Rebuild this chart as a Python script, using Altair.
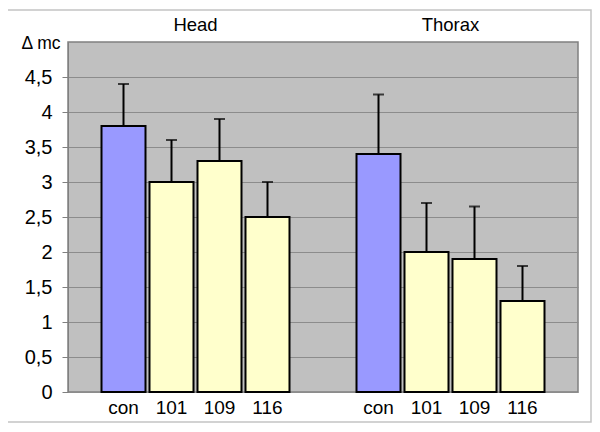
import altair as alt
import pandas as pd

groups = ["Head", "Head", "Head", "Head", "Thorax", "Thorax", "Thorax", "Thorax"]
conditions = ["con", "101", "109", "116", "con", "101", "109", "116"]
values = [3.8, 3.0, 3.3, 2.5, 3.4, 2.0, 1.9, 1.3]
upper = [4.4, 3.6, 3.9, 3.0, 4.25, 2.7, 2.65, 1.8]
kinds = ["control", "treated", "treated", "treated", "control", "treated", "treated", "treated"]
y_ticks = [0, 0.5, 1, 1.5, 2, 2.5, 3, 3.5, 4, 4.5]
group_order = ["Head", "Thorax"]
cond_order = ["con", "101", "109", "116"]

df = pd.DataFrame({"group": groups, "condition": conditions, "value": values,
                   "upper": upper, "kind": kinds})

FONT = "Arial, Liberation Sans"

x = alt.X("group:N", scale=alt.Scale(domain=group_order, paddingInner=0, paddingOuter=0),
          axis=alt.Axis(orient="top", title=None, ticks=False, domain=False,
                        labelAngle=0, grid=False, labelFontSize=18.5, labelPadding=8,
                        labelFont=FONT, labelColor="black"))
xo = alt.XOffset("condition:N", sort=cond_order,
                 scale=alt.Scale(domain=cond_order, paddingInner=0.0833, paddingOuter=0.698))
yaxis = alt.Axis(values=y_ticks, labelExpr="replace(toString(datum.value), '.', ',')",
                 title="Δ mc", grid=True, labelFontSize=20, labelFont=FONT,
                 labelPadding=10, labelColor="black")
yscale = alt.Scale(domain=[0, 5], nice=False)

base = alt.Chart(df)

bars = base.mark_bar(stroke="black", strokeWidth=2).encode(
    x=x, xOffset=xo,
    y=alt.Y("value:Q", scale=yscale, axis=yaxis),
    color=alt.Color("kind:N", scale=alt.Scale(domain=["control", "treated"],
                                              range=["#9999FF", "#FFFFCC"]), legend=None),
)
err = base.mark_rule(color="black", strokeWidth=2).encode(
    x=x, xOffset=xo,
    y=alt.Y("value:Q", scale=yscale, axis=yaxis), y2="upper:Q",
)
caps = base.mark_tick(color="black", thickness=2, size=11).encode(
    x=x, xOffset=xo,
    y=alt.Y("upper:Q", scale=yscale, axis=yaxis),
)
labels = base.mark_text(fontSize=19, font=FONT, baseline="middle", color="black").encode(
    x=x, xOffset=xo, y=alt.value(366), text="condition:N",
)
frame = alt.Chart(pd.DataFrame({"a": [0]})).mark_rect(
    fill="transparent", stroke="#c4c4c4", strokeWidth=1.5
).encode(x=alt.value(-62), x2=alt.value(523), y=alt.value(-32), y2=alt.value(380))

chart = alt.layer(frame, bars, err, caps, labels).properties(
    width=510, height=350,
    background="white",
    autosize=alt.AutoSizeParams(type="none"),
    padding={"left": 60, "top": 34, "right": 14, "bottom": 32},
).configure_view(
    fill="#C0C0C0", stroke="#808080", strokeWidth=1.5
).configure_axis(
    labelFontSize=20,
).configure_axisX(
    labelFont=FONT, labelFontSize=18.5, labelFontWeight="normal", labelColor="black",
    labelPadding=8, tickSize=0,
).configure_axisY(
    labelFont=FONT, labelFontSize=20, labelColor="black", labelPadding=10,
    tickColor="#808080", tickSize=6, domainColor="#808080", gridColor="#8c8c8c",
    titleAngle=0, titleAlign="right", titleBaseline="middle", titleX=-8, titleY=1,
    titleFontSize=17.5, titleFontWeight="normal", titleFont=FONT, titleColor="black",
)

chart.save("out.html", embed_options={"renderer": "svg", "actions": False})
